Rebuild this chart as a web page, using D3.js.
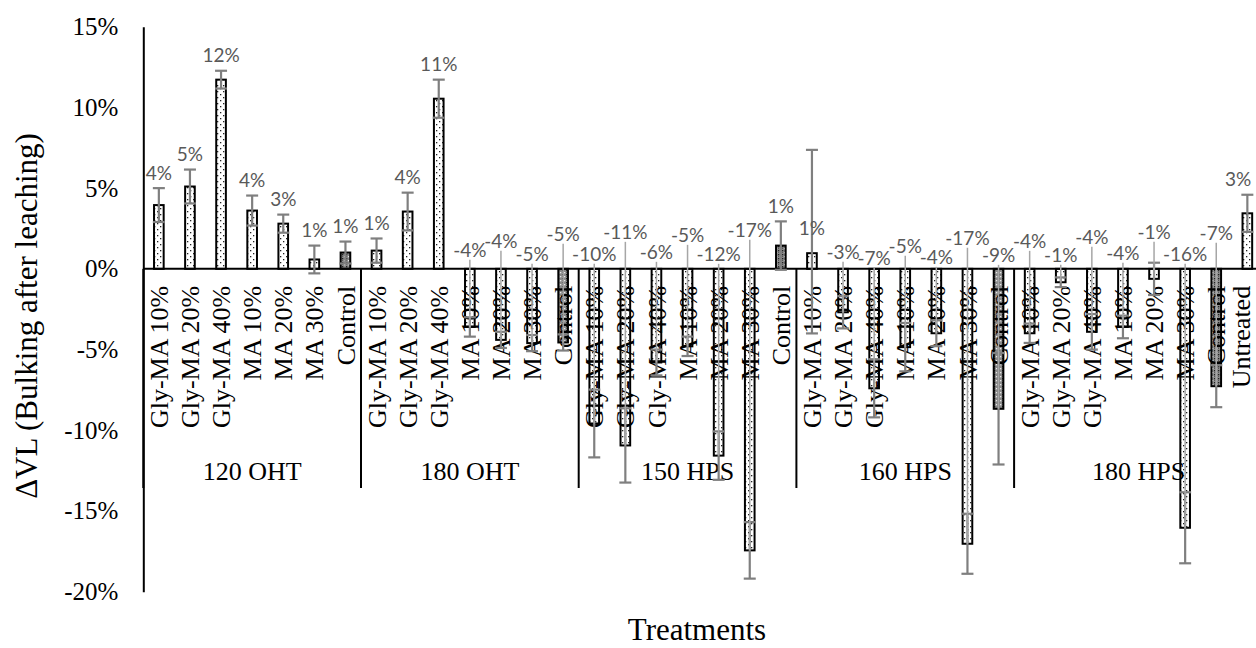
<!DOCTYPE html>
<html><head><meta charset="utf-8">
<script src="https://cdn.jsdelivr.net/npm/d3@7"></script>
<style>body{margin:0;background:#fff}svg{display:block}</style>
</head><body><svg id="chart" width="1256" height="648"></svg>
<script>
// ---------- data ----------
const groups = ["120 OHT", "180 OHT", "150 HPS", "160 HPS", "180 HPS"];
const treatments = ["Gly-MA 10%", "Gly-MA 20%", "Gly-MA 40%", "MA 10%", "MA 20%", "MA 30%", "Control"];
const extraCategory = "Untreated";
// ΔVL in percent, in order group by group, then Untreated
const values = [
  3.95, 5.10, 11.72, 3.61, 2.80, 0.58, 1.01,
  1.13, 3.55, 10.54, -3.60, -4.40, -4.60, -4.56,
  -9.58, -10.94, -5.80, -4.80, -11.57, -17.44, 1.44,
  0.97, -2.69, -7.40, -4.85, -3.99, -17.03, -8.67,
  -3.99, -0.83, -3.90, -3.60, -0.62, -16.04, -7.27,
  3.44
];
const errPlus = [
  1.05, 1.05, 0.55, 0.93, 0.56, 0.86, 0.68,
  0.75, 1.17, 1.18, 0.60, 0.50, 0.50, 0.50,
  2.10, 2.30, 0.80, 0.60, 1.50, 1.75, 1.50,
  6.40, 1.00, 1.80, 1.50, 0.80, 1.86, 3.45,
  0.60, 0.30, 1.10, 0.70, 1.00, 2.20, 1.30,
  1.15
];
const errMinus = [
  1.05, 1.05, 0.55, 0.93, 0.56, 0.86, 0.68,
  0.75, 1.17, 1.18, 0.60, 0.50, 0.50, 0.50,
  2.10, 2.30, 0.80, 0.60, 1.50, 1.75, 1.50,
  4.97, 1.00, 1.80, 1.50, 0.80, 1.86, 3.45,
  0.60, 0.30, 1.10, 0.70, 1.00, 2.20, 1.30,
  1.15
];
const yTicks = [-20, -15, -10, -5, 0, 5, 10, 15];
// layout hint: how far above the zero line a moved data label sits (null = automatic)
const labelLiftPx = [
  null, null, null, null, null, null, null,
  null, null, null, 18, 27, 14, 34,
  14, 36, 16, 33, 14, 38, null,
  40, 16, 10, 22, 11, 30, 13,
  27, 13, 31, 15, 36, 14, 35,
  null
];

// ---------- build ----------
const cats = [];
groups.forEach((g, gi) => treatments.forEach(t => cats.push({group: gi, name: t})));
cats.push({group: null, name: extraCategory});
cats.forEach((c, i) => {
  c.id = "c" + i; c.value = values[i]; c.ep = errPlus[i]; c.em = errMinus[i]; c.lift = labelLiftPx[i];
});

const svg = d3.select("#chart");
const serif = "'Liberation Serif','Times New Roman',serif";
const x0 = 143.3, step = 31.1;
const x = d3.scaleBand().domain(cats.map(c => c.id)).range([x0, x0 + cats.length * step]).padding(0);
const y = d3.scaleLinear().domain([-20, 15]).range([591.7, 26.7]);
const barW = x.bandwidth() * 0.31;
const cx = c => x(c.id) + x.bandwidth() / 2;

// patterns
const defs = svg.append("defs");
const pDots = defs.append("pattern").attr("id", "dots").attr("patternUnits", "userSpaceOnUse")
  .attr("width", 6).attr("height", 6);
pDots.append("rect").attr("width", 6).attr("height", 6).attr("fill", "#fff");
pDots.append("rect").attr("x", 1).attr("y", 1).attr("width", 1.3).attr("height", 1.3).attr("fill", "#222");
pDots.append("rect").attr("x", 4).attr("y", 4).attr("width", 1.3).attr("height", 1.3).attr("fill", "#222");
const pDense = defs.append("pattern").attr("id", "dense").attr("patternUnits", "userSpaceOnUse")
  .attr("width", 4).attr("height", 4);
pDense.append("rect").attr("width", 4).attr("height", 4).attr("fill", "#8a8a8a");
pDense.append("rect").attr("x", 0).attr("y", 0).attr("width", 1.3).attr("height", 1.3).attr("fill", "#e8e8e8");
pDense.append("rect").attr("x", 2).attr("y", 2).attr("width", 1.3).attr("height", 1.3).attr("fill", "#222");
pDense.append("rect").attr("x", 2).attr("y", 0).attr("width", 1).attr("height", 1).attr("fill", "#555");

// bars
svg.append("g").selectAll("rect").data(cats).join("rect")
  .attr("x", c => cx(c) - barW / 2)
  .attr("width", barW)
  .attr("y", c => Math.min(y(c.value), y(0)))
  .attr("height", c => Math.abs(y(c.value) - y(0)))
  .attr("fill", c => c.name === "Control" ? "url(#dense)" : "url(#dots)")
  .attr("stroke", "#000").attr("stroke-width", 2);

// y axis
const yAxis = svg.append("g").attr("transform", `translate(${x0},0)`)
  .call(d3.axisLeft(y).tickValues(yTicks).tickSize(0).tickSizeOuter(0).tickPadding(25).tickFormat(v => v + "%"));
yAxis.select(".domain").attr("stroke", "#000").attr("stroke-width", 2);
yAxis.selectAll("text").attr("font-family", serif).attr("font-size", 25).attr("fill", "#000");

// x axis line
svg.append("line").attr("x1", x0).attr("x2", 1256).attr("y1", y(0)).attr("y2", y(0))
  .attr("stroke", "#000").attr("stroke-width", 2);

// category labels
svg.append("g").selectAll("text").data(cats).join("text")
  .attr("transform", c => `translate(${Math.min(cx(c), 1241)},${y(0) + 17}) rotate(-90)`)
  .attr("text-anchor", "end").attr("dy", "0.35em")
  .attr("font-family", serif).attr("font-size", 26).attr("fill", "#000")
  .text(c => c.name);

// group separators and labels
const groupInfo = groups.map((g, gi) => {
  const members = cats.filter(c => c.group === gi);
  const start = x(members[0].id);
  const nextStart = gi < groups.length - 1 ? x(cats.find(c => c.group === gi + 1).id) : x.range()[1];
  return {name: g, start, end: nextStart};
});
svg.append("g").selectAll("line").data(groupInfo).join("line")
  .attr("x1", d => d.start).attr("x2", d => d.start)
  .attr("y1", y(0)).attr("y2", 488)
  .attr("stroke", "#000").attr("stroke-width", 2);
svg.append("g").selectAll("text").data(groupInfo).join("text")
  .attr("x", d => (d.start + d.end) / 2).attr("y", 480)
  .attr("text-anchor", "middle")
  .attr("font-family", serif).attr("font-size", 26).attr("fill", "#000")
  .text(d => d.name);

// error bars
const eb = svg.append("g").attr("stroke", "#7f7f7f").attr("stroke-width", 2.2);
cats.forEach(c => {
  const xc = cx(c), yt = y(c.value + c.ep), yb = y(c.value - c.em);
  eb.append("line").attr("x1", xc).attr("x2", xc).attr("y1", yt).attr("y2", yb);
  eb.append("line").attr("x1", xc - 6).attr("x2", xc + 6).attr("y1", yt).attr("y2", yt);
  eb.append("line").attr("x1", xc - 6).attr("x2", xc + 6).attr("y1", yb).attr("y2", yb);
});

// data labels
const fmt = v => (v < 0 ? "-" : "") + Math.round(Math.abs(v)) + "%";
const labelY = c => c.lift != null ? y(0) - c.lift : y(c.value + c.ep) - 15;
// leader lines for moved labels of negative bars
svg.append("g").selectAll("line").data(cats.filter(c => c.value < 0)).join("line")
  .attr("x1", c => cx(c)).attr("x2", c => cx(c))
  .attr("y1", c => labelY(c) + 9).attr("y2", c => y(c.value))
  .attr("stroke", "#a6a6a6").attr("stroke-width", 1.5);
svg.append("g").selectAll("text").data(cats).join("text")
  .attr("x", c => Math.min(cx(c), 1238)).attr("y", labelY).attr("dy", "0.35em")
  .attr("text-anchor", "middle")
  .attr("font-family", "Lato, 'Liberation Sans', sans-serif").attr("font-size", 19).attr("fill", "#595959")
  .text(c => fmt(c.value));

// axis titles
svg.append("text").attr("transform", "translate(26,316) rotate(-90)")
  .attr("text-anchor", "middle").attr("dy", "0.35em")
  .attr("font-family", serif).attr("font-size", 31).attr("fill", "#000")
  .text("ΔVL (Bulking after leaching)");
svg.append("text").attr("x", 697).attr("y", 640).attr("text-anchor", "middle")
  .attr("font-family", serif).attr("font-size", 31).attr("fill", "#000")
  .text("Treatments");
</script>
</body></html>
